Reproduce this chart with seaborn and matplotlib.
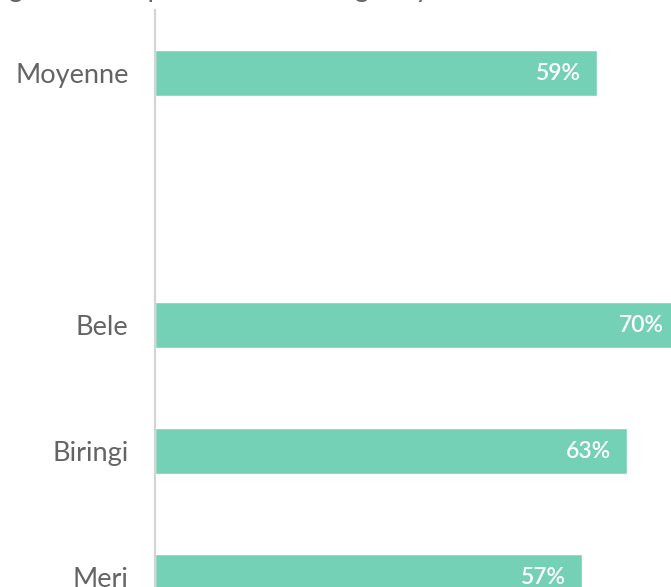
import matplotlib
matplotlib.use("Agg")
import matplotlib.pyplot as plt
import seaborn as sns
import pandas as pd

# Share of households, by zone
categories = ["Moyenne", "Bele", "Biringi", "Meri"]
values = [59, 70, 63, 57]
order = ["Moyenne", " ", "Bele", "Biringi", "Meri"]
title = "Figure 3 : Proportion des ménages ayant accès aux services de base"

sns.set_theme(style="white")
plt.rcParams["font.family"] = ["Lato", "DejaVu Sans"]

df = pd.DataFrame({"zone": categories, "pct": values})

fig = plt.figure(figsize=(6.71, 5.87), dpi=100)
ax = fig.add_axes([155 / 671, 0.0, 1 - 155 / 671, 1 - 10 / 587])

sns.barplot(data=df, y="zone", x="pct", order=order, orient="h",
            color="#75d1b6", saturation=1, width=0.36, ax=ax)

ax.set_xlim(0, 68.9)
ax.set_ylim(4.079, -0.5)
ax.set_xlabel("")
ax.set_ylabel("")
ax.set_xticks([])
ax.tick_params(axis="y", length=0, pad=19, labelsize=19.5, labelcolor="#646464")

for s in ["top", "right", "bottom"]:
    ax.spines[s].set_visible(False)
ax.spines["left"].set_color("#d4d4d4")
ax.spines["left"].set_linewidth(1.6)

for cat, v in zip(categories, values):
    y = order.index(cat)
    ax.text(v - 2.1, y, f"{v}%", ha="right", va="center",
            color="white", fontsize=16.5, fontweight="semibold", clip_on=True)

fig.text(-0.02, 1 + 2.5 / 587, title, ha="left", va="baseline",
         fontsize=19.5, color="#646464")

fig.savefig("out.png", dpi=100)
